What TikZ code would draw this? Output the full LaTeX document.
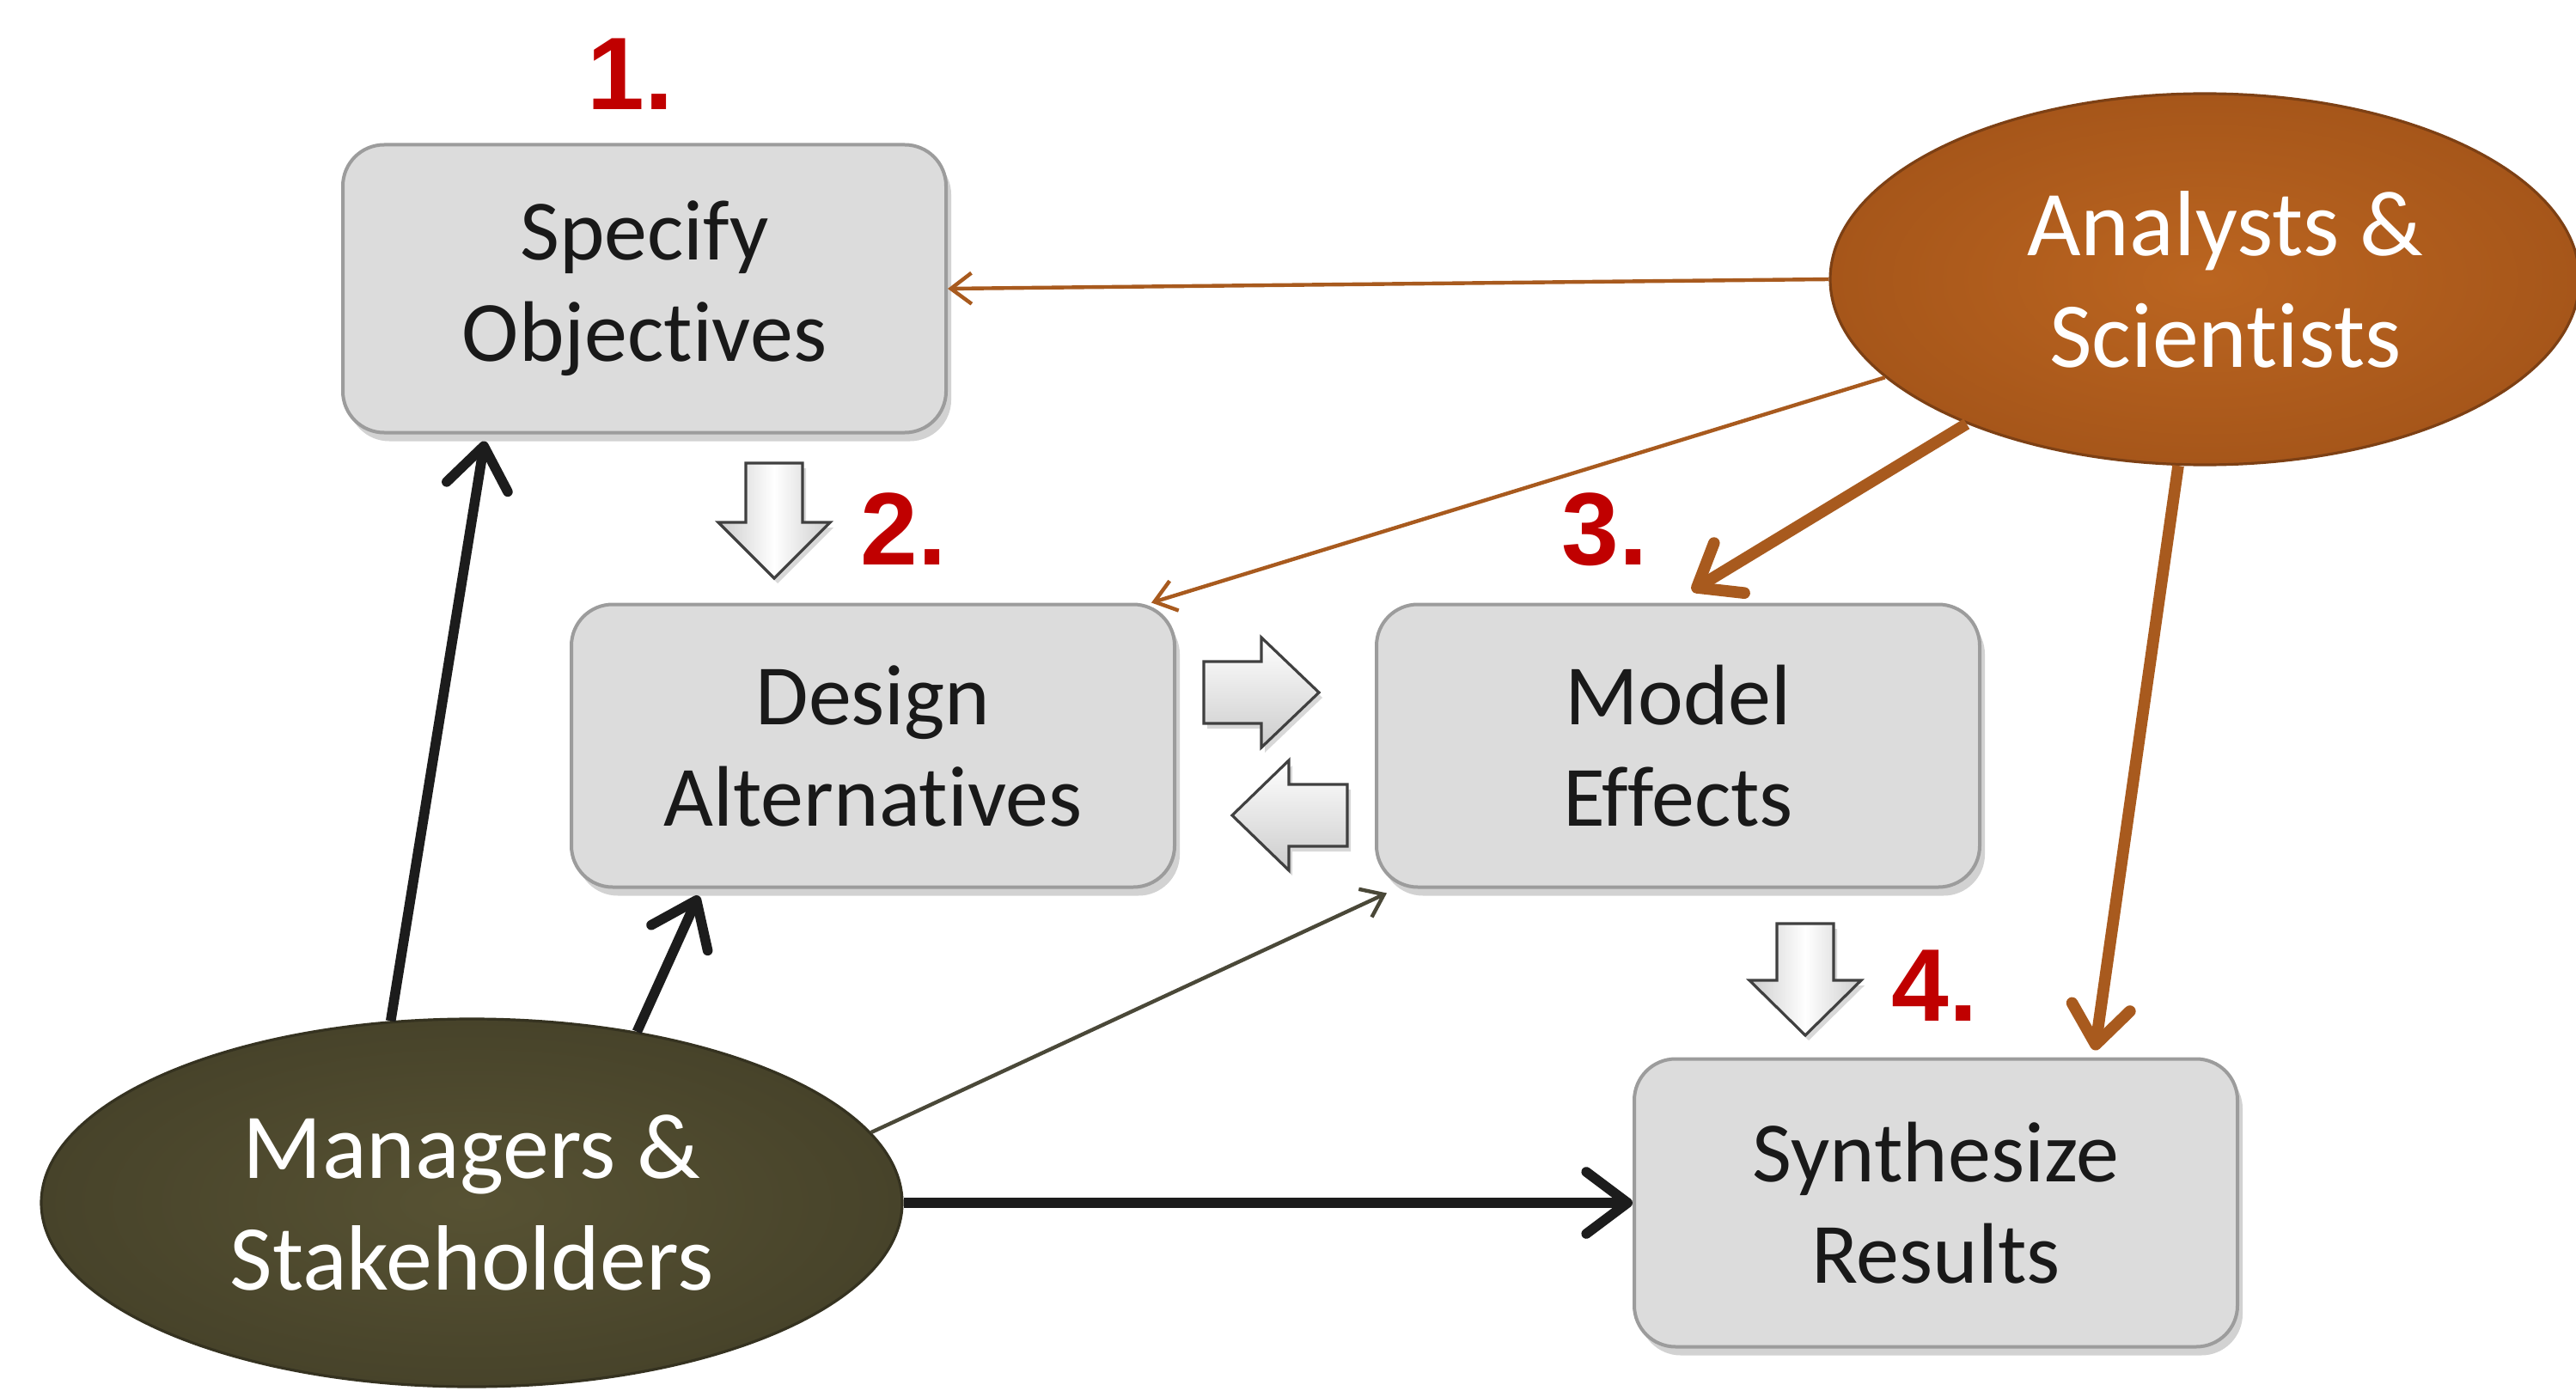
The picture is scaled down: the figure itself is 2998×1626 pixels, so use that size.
\documentclass[tikz,border=0pt]{standalone}
\usepackage{fontspec}
\setmainfont[Ligatures={NoCommon,NoContextual,NoRequired}]{Carlito}
\newfontfamily\numfont{Liberation Sans}
\usetikzlibrary{shapes.geometric,arrows.meta,shadows,calc}
\definecolor{boxfill}{HTML}{DCDCDC}
\definecolor{boxborder}{HTML}{9C9C9C}
\definecolor{anaIn}{HTML}{BB6520}
\definecolor{anaOut}{HTML}{A6561A}
\definecolor{mgrIn}{HTML}{575233}
\definecolor{mgrOut}{HTML}{47432A}
\definecolor{brownline}{HTML}{A85A1E}
\definecolor{numred}{HTML}{C00000}
\definecolor{darkline}{HTML}{1C1C1C}
\definecolor{oliveline}{HTML}{4A4838}
\begin{document}
\begin{tikzpicture}[x=0.25pt,y=-0.25pt,
  stepbox/.style={draw=boxborder, line width=1pt, fill=boxfill, rounded corners=12pt,
    minimum width=175.5pt, minimum height=83.75pt, align=center,
    font=\fontsize{25}{29.5}\selectfont, text=black!90,
    drop shadow={shadow xshift=1.5pt, shadow yshift=-2.5pt, opacity=0.35}},
  mgrell/.style={ellipse, draw=mgrOut!75!black, line width=0.8pt, inner color=mgrIn, outer color=mgrOut,
    minimum width=250.5pt, minimum height=107pt, inner sep=0pt, align=center,
    font=\fontsize{27}{32.5}\selectfont, text=white},
  anaell/.style={ellipse, draw=anaOut!75!black, line width=0.8pt, inner color=anaIn, outer color=anaOut,
    minimum width=218pt, minimum height=108pt, inner sep=0pt, align=center,
    font=\fontsize{27}{32.5}\selectfont, text=white},
  numlbl/.style={font=\numfont\bfseries\fontsize{30}{36}\selectfont, text=numred, inner sep=0pt},
  thinbrown/.style={draw=brownline, line width=1.1pt, -{Straight Barb[length=6pt,width=9pt]}},
  thickbrown/.style={draw=brownline, line width=3.4pt, -{Straight Barb[length=11pt,width=17pt,round]}},
  thickblack/.style={draw=darkline, line width=2.9pt, -{Straight Barb[length=12pt,width=18pt,round]}},
  thinblack/.style={draw=oliveline, line width=1.1pt, -{Straight Barb[length=6pt,width=9pt]}},
  vblock/.style={draw=black!75, line width=0.8pt, left color=gray!40, right color=gray!40, middle color=white,
    drop shadow={shadow xshift=1pt, shadow yshift=-1.5pt, opacity=0.3}},
  hblock/.style={draw=black!75, line width=0.8pt, top color=white, bottom color=gray!40,
    drop shadow={shadow xshift=1pt, shadow yshift=-1.5pt, opacity=0.3}}
]
\useasboundingbox (0,0) rectangle (2998,1626);
\fill[white] (0,0) rectangle (2998,1626);

% step boxes
\node[stepbox] (spec) at (750,336) {Specify\\Objectives};
\node[stepbox, minimum height=82.25pt] (des) at (1016,868) {Design\\Alternatives};
\node[stepbox, minimum height=82.25pt] (mod) at (1953,868) {Model\\Effects};
\node[stepbox] (syn) at (2253,1400) {Synthesize\\Results};

% actors
\node[mgrell] (mgr) at (549,1400) {Managers \&\\Stakeholders};
\node[anaell] (ana) at (2566,325) {\hspace*{12pt}Analysts \&\\\hspace*{12pt}Scientists};

% step numbers
\node[numlbl] (n1) at (734,86) {1.};
\node[numlbl] (n2) at (1052,616) {2.};
\node[numlbl] (n3) at (1868,616) {3.};
\node[numlbl] (n4) at (2252,1147) {4.};

% block arrows
\path[vblock] (868,539) -- (934,539) -- (934,608) -- (966,608) -- (901,673) -- (836,608) -- (868,608) -- cycle;
\path[vblock] (2068,1075) -- (2134,1075) -- (2134,1141) -- (2166,1141) -- (2101,1205) -- (2036,1141) -- (2068,1141) -- cycle;
\path[hblock] (1401,770) -- (1468,770) -- (1468,742) -- (1535,806) -- (1468,870) -- (1468,842) -- (1401,842) -- cycle;
\path[hblock] (1568,913) -- (1500,913) -- (1500,885) -- (1434,949) -- (1500,1013) -- (1500,985) -- (1568,985) -- cycle;

% connectors from Analysts & Scientists
\draw[thinbrown] (ana.west) -- (spec.east);
\draw[thinbrown] (ana) -- ($(des.north east)+(-29,0)$);
\draw[thickbrown] (ana) -- ($(mod.north)+(16,-14)$);
\draw[thickbrown] (ana) -- ($(syn.north)+(185,-8)$);

% connectors from Managers & Stakeholders
\draw[thickblack] (mgr.114) -- ($(spec.south)+(-186,8)$);
\draw[thickblack] (mgr.46) -- ($(des.south)+(-203,8)$);
\draw[thinblack] (mgr.10) -- ($(mod.south west)+(14,5)$);
\draw[thickblack] (mgr.east) -- (syn.west);
\end{tikzpicture}
\end{document}
